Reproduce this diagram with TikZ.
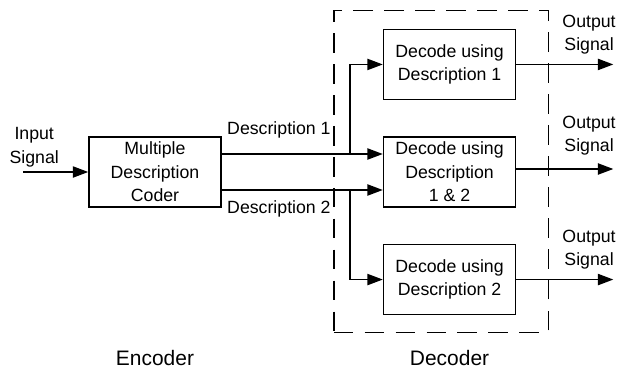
\documentclass[tikz,border=0pt]{standalone}
\usepackage{fontspec}
\setmainfont{Liberation Sans}
\usepackage{tikz}
\usetikzlibrary{arrows.meta, positioning, fit}
\tikzset{
    codebox/.style={
        rectangle,
        draw=black,
        line width=1.1pt,
        align=center,
        minimum width=3.3cm,
        minimum height=1.75cm,
        font=\fontsize{12.6}{16.7}\selectfont
    },
    sigline/.style={
        -{Triangle[length=11pt,width=8pt]},
        line width=1.1pt
    },
    sigtext/.style={
        align=center,
        font=\fontsize{12.6}{16.7}\selectfont
    },
    decbox/.style={
        draw=black,
        line width=1.1pt,
        dash pattern=on 14pt off 8pt,
        inner sep=0pt
    },
    blocklabel/.style={
        font=\fontsize{14.9}{18}\selectfont
    }
}

\begin{document}
\begin{tikzpicture}[node distance=0.9cm]
    \useasboundingbox (0,0) rectangle (15.625,9.2);

    \node[codebox] (coder) at (3.875,4.9) {Multiple\\Description\\Coder};
    \node[codebox, right=4.025cm of coder] (d12) {Decode using\\Description\\1 \& 2};
    \node[codebox, above=of d12] (d1) {Decode using\\Description 1};
    \node[codebox, below=of d12] (d2) {Decode using\\Description 2};

    \node[decbox, fit={([shift={(-1.225,0.45)}]d1.north west) ([shift={(0.8,-0.425)}]d2.south east)}] (decoder) {};

    \coordinate[left=1.625cm of coder] (insig);
    \coordinate (d12in1) at ([yshift=0.45cm]d12.west);
    \coordinate (d12in2) at ([yshift=-0.45cm]d12.west);
    \coordinate[left=0.825cm of d12in1] (fork1);
    \coordinate[left=0.825cm of d12in2] (fork2);
    \coordinate (d12out) at ([yshift=0.075cm]d12.east);
    \coordinate[right=2.425cm of d1] (out1);
    \coordinate[right=2.425cm of d12out] (out12);
    \coordinate[right=2.425cm of d2] (out2);

    \node[sigtext, above] (intext) at ([xshift=0.275cm]insig) {Input\\Signal};

    \draw[sigline] (insig) -- (coder);
    \draw[sigline] (coder.east |- d12in1) -- node[pos=0, anchor=south west, yshift=0.25cm, sigtext] (desc1) {Description 1} (d12in1);
    \draw[sigline] (coder.east |- d12in2) -- node[pos=0, anchor=north west, yshift=-0.125cm, sigtext] (desc2) {Description 2} (d12in2);
    \draw[sigline] (fork1) |- (d1);
    \draw[sigline] (fork2) |- (d2);

    % outputs of the three decoders
    \draw[sigline] (d1) -- node[pos=0.75, above=0.12cm, sigtext] (outtext1) {Output\\Signal} (out1);
    \draw[sigline] (d12out) -- node[pos=0.75, above=0.2cm, sigtext] (outtext12) {Output\\Signal} (out12);
    \draw[sigline] (d2) -- node[pos=0.75, above=0.12cm, sigtext] (outtext2) {Output\\Signal} (out2);

    \node[blocklabel, below=0.3cm] (declabel) at (decoder.south -| d2) {Decoder};
    \node[blocklabel] (enclabel) at (declabel -| coder) {Encoder};
\end{tikzpicture}
\end{document}
